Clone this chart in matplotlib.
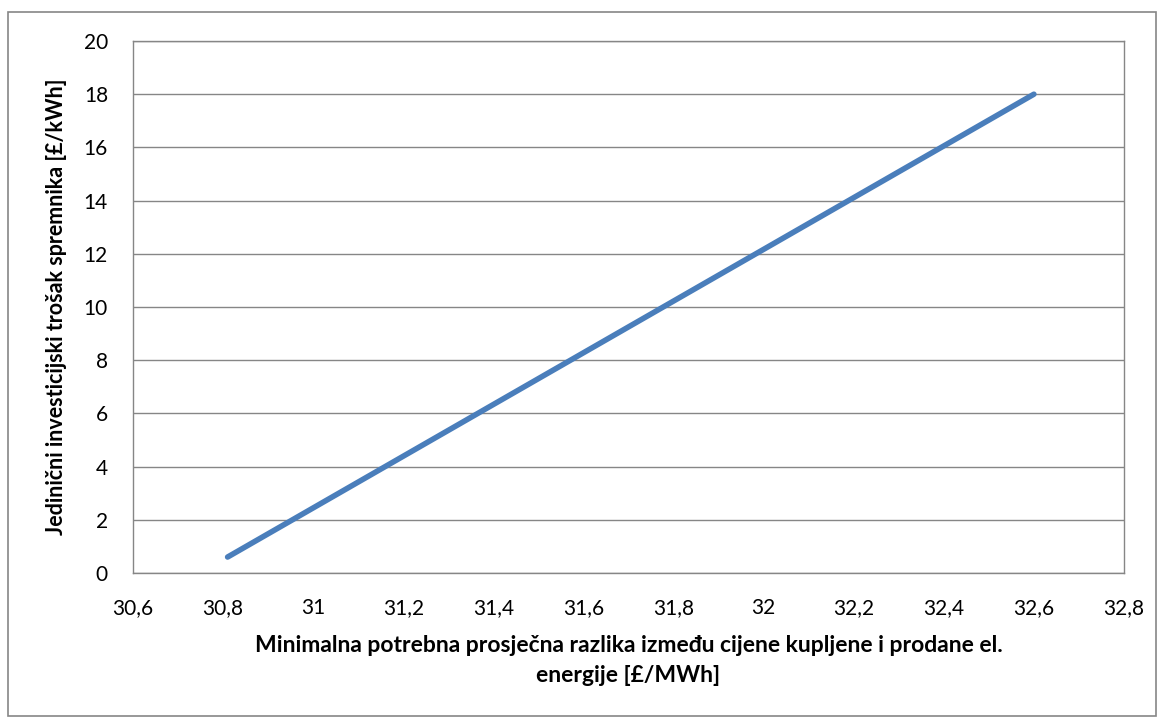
import matplotlib.pyplot as plt
from matplotlib.patches import Rectangle
from matplotlib.ticker import FuncFormatter

plt.rcParams['font.family'] = ['Lato', 'DejaVu Sans']

price_diff = [30.81, 32.6]
unit_cost = [0.6, 18.0]

fig = plt.figure(figsize=(11.64, 7.24), dpi=100)
ax = fig.add_axes([133/1164, 1 - 573/724, (1124-133)/1164, (573-41)/724])

# outer chart border
fig.patches.append(Rectangle((8/1164, 1 - 716/724), (1156-8)/1164, (716-12)/724,
                             transform=fig.transFigure, fill=False,
                             edgecolor='#868686', linewidth=1.2))

ax.plot(price_diff, unit_cost, color='#4a7ebb', linewidth=4, solid_capstyle='round')

ax.set_xlim(30.6, 32.8)
ax.set_ylim(0, 20)
ax.set_xticks([30.6, 30.8, 31, 31.2, 31.4, 31.6, 31.8, 32, 32.2, 32.4, 32.6, 32.8])
ax.set_yticks(range(0, 21, 2))
ax.xaxis.set_major_formatter(FuncFormatter(lambda v, p: f'{v:.1f}'.rstrip('0').rstrip('.').replace('.', ',')))

ax.grid(axis='y', color='#868686', linewidth=1)
ax.set_axisbelow(True)
for s in ax.spines.values():
    s.set_color('#868686')
    s.set_linewidth(1)
ax.tick_params(length=0, labelsize=15, colors='black')
ax.tick_params(axis='y', pad=18)
ax.tick_params(axis='x', pad=18)

ax.set_xlabel('Minimalna potrebna prosječna razlika između cijene kupljene i prodane el.\nenergije [£/MWh]',
              fontsize=16.5, fontweight='bold', labelpad=12, linespacing=1.55)
ax.set_ylabel('Jedinični investicijski trošak spremnika [£/kWh]',
              fontsize=15.5, fontweight='bold', labelpad=12)

fig.savefig('out.png', dpi=100)
